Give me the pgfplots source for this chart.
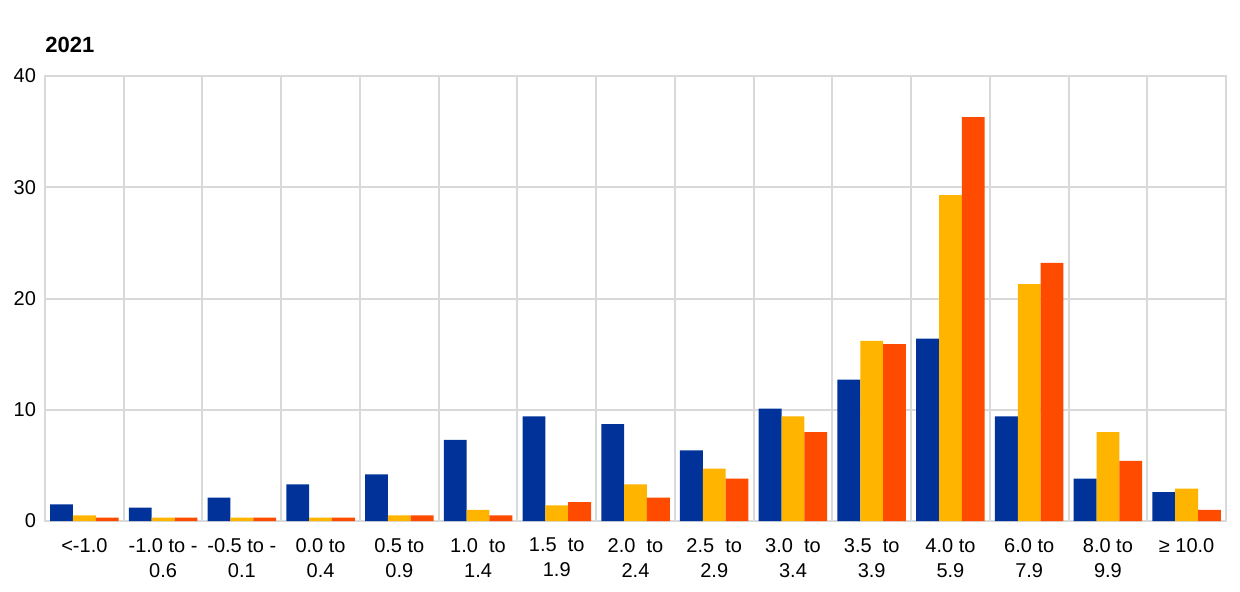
\documentclass[border=0pt]{standalone}
\usepackage{pgfplots}
\usepackage{pgfplotstable}
\pgfplotsset{compat=1.18}
\usepackage{fontspec}
\setmainfont{Liberation Sans}
\definecolor{ecbblue}{HTML}{003299}
\definecolor{ecbyellow}{HTML}{FFB400}
\definecolor{ecborange}{HTML}{FF4B00}
\definecolor{gridgray}{HTML}{D9D9D9}
\pgfplotstableread{
cat b y o
0 1.5 0.5 0.3
1 1.2 0.3 0.3
2 2.1 0.3 0.3
3 3.3 0.3 0.3
4 4.2 0.5 0.5
5 7.3 1.0 0.5
6 9.4 1.4 1.7
7 8.7 3.3 2.1
8 6.35 4.7 3.8
9 10.1 9.4 8.0
10 12.7 16.2 15.9
11 16.4 29.3 36.3
12 9.4 21.3 23.2
13 3.8 8.0 5.4
14 2.6 2.9 1.0
}\datatable
\begin{document}
\begin{tikzpicture}
\useasboundingbox (-22.5pt,-35pt) rectangle (597.5pt,260.5pt);
\begin{axis}[
  at={(0,0)}, anchor=south west,
  scale only axis, width=590.5pt, height=222.5pt,
  ybar=0pt, bar width=0.29,
  xmin=-0.5, xmax=14.5, ymin=0, ymax=40,
  xtick={0,...,14},
  xticklabels={{<-1.0},{-1.0 to -\\0.6},{-0.5 to -\\0.1},{0.0 to\\0.4},{0.5 to\\0.9},{1.0\ \ to\\1.4},{1.5\ \ to\\1.9},{2.0\ \ to\\2.4},{2.5\ \ to\\2.9},{3.0\ \ to\\3.4},{3.5\ \ to\\3.9},{4.0 to\\5.9},{6.0 to\\7.9},{8.0 to\\9.9},{≥ 10.0}},
  xticklabel style={align=center, font=\fontsize{10}{12.5}\selectfont, yshift=-5pt},
  ytick={0,10,20,30,40},
  yticklabel style={font=\fontsize{10}{12}\selectfont, xshift=-1pt},
  /pgf/number format/assume math mode=true,
  minor xtick={0.5,1.5,...,13.5},
  xminorgrids=true, ymajorgrids=true,
  major grid style={gridgray, line width=1pt},
  minor grid style={gridgray, line width=1pt},
  axis line style={gridgray, line width=1pt},
  major tick length=0pt, minor tick length=0pt,
  tick style={draw=none},
]
\addplot[fill=ecbblue, draw=none] table[x=cat, y=b] {\datatable};
\addplot[fill=ecbyellow, draw=none] table[x=cat, y=y] {\datatable};
\addplot[fill=ecborange, draw=none] table[x=cat, y=o] {\datatable};
\end{axis}
\node[anchor=west, font=\fontsize{11}{13}\selectfont\bfseries, inner sep=0pt] at (0,15.5pt+222.5pt) {2021};
\end{tikzpicture}
\end{document}
